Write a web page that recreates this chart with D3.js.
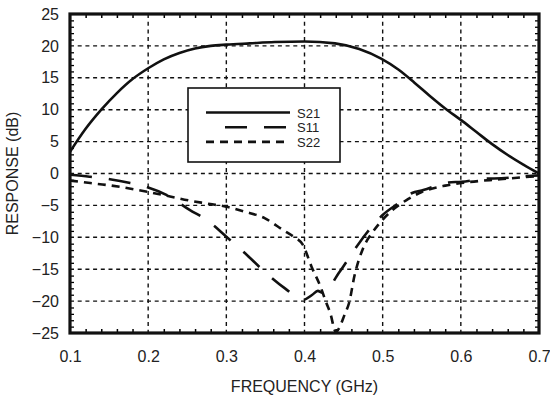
<!DOCTYPE html>
<html>
<head>
<meta charset="utf-8">
<script src="https://cdn.jsdelivr.net/npm/d3@7"></script>
<style>
  body { margin: 0; background: #fff; }
  svg { font-family: "Liberation Sans", Arial, sans-serif; }
</style>
</head>
<body>
<div id="chart"></div>
<script>
// values: [frequency GHz, response dB]
const s21 = [[0.1, 3.4], [0.12, 7.0], [0.14, 10.0], [0.16, 12.6], [0.18, 14.8], [0.2, 16.5],
             [0.22, 17.9], [0.24, 18.9], [0.26, 19.6], [0.28, 20.0], [0.3, 20.2], [0.33, 20.4],
             [0.362, 20.6], [0.4, 20.7], [0.439, 20.4], [0.47, 19.5], [0.498, 18.0], [0.52, 16.3],
             [0.541, 14.2], [0.56, 12.2], [0.58, 10.2], [0.6, 8.4], [0.62, 6.5], [0.64, 4.6],
             [0.66, 2.9], [0.68, 1.4], [0.7, 0.0]];
const s11 = [[0.1, -0.2], [0.125, -0.5], [0.151, -0.9], [0.177, -1.5], [0.2, -2.2], [0.224, -3.4],
             [0.253, -5.7], [0.275, -7.3], [0.3, -9.9], [0.324, -12.5], [0.349, -15.4], [0.375, -18.0],
             [0.398, -19.8], [0.41, -19.0], [0.417, -18.4], [0.423, -18.7], [0.445, -15.4],
             [0.462, -12.3], [0.479, -9.4], [0.5, -6.5], [0.522, -4.5], [0.537, -3.1], [0.552, -2.6],
             [0.584, -1.4], [0.601, -1.3], [0.633, -0.8], [0.652, -0.75], [0.686, -0.4], [0.7, -0.3]];
const s22 = [[0.1, -1.1], [0.126, -1.5], [0.147, -1.8], [0.164, -2.1], [0.187, -2.6], [0.2, -2.9],
             [0.228, -3.6], [0.251, -4.2], [0.275, -4.7], [0.3, -5.2], [0.324, -6.0], [0.349, -7.0],
             [0.373, -8.9], [0.386, -9.9], [0.398, -11.2], [0.409, -14.6], [0.42, -17.6],
             [0.428, -20.3], [0.433, -21.9], [0.44, -24.8], [0.452, -21.9], [0.457, -20.3],
             [0.464, -16.0], [0.475, -11.7], [0.486, -9.4], [0.494, -8.1], [0.51, -6.0],
             [0.53, -4.2], [0.55, -2.9], [0.58, -1.9], [0.6, -1.5], [0.65, -0.9], [0.7, -0.4]];

const seriesNames = ["S21", "S11", "S22"];
const xTicks = [0.1, 0.2, 0.3, 0.4, 0.5, 0.6, 0.7];
const yTicks = [-25, -20, -15, -10, -5, 0, 5, 10, 15, 20, 25];

const width = 550,
      height = 400,
      margin = ({ top: 14, right: 11, bottom: 67, left: 70 });

let svg = d3.select("#chart")
    .append("svg")
    .attr("width", width)
    .attr("height", height);

let x = d3.scaleLinear()
    .domain([0.1, 0.7])
    .range([margin.left, width - margin.right]);

let y = d3.scaleLinear()
    .domain([-25, 25])
    .range([height - margin.bottom, margin.top]);

// dotted grid
svg.append("g")
    .selectAll("line")
    .data(xTicks.slice(1, -1))
    .join("line")
    .attr("x1", d => x(d)).attr("x2", d => x(d))
    .attr("y1", y(25)).attr("y2", y(-25))
    .attr("stroke", "#111")
    .attr("stroke-width", 1.4)
    .attr("stroke-dasharray", "4,3.7");

svg.append("g")
    .selectAll("line")
    .data(yTicks.slice(1, -1))
    .join("line")
    .attr("x1", x(0.1)).attr("x2", x(0.7))
    .attr("y1", d => y(d)).attr("y2", d => y(d))
    .attr("stroke", "#111")
    .attr("stroke-width", 1.4)
    .attr("stroke-dasharray", "4,3.7");

// minor ticks, inward on every side
const xMinor = d3.range(0.12, 0.7, 0.02).filter(v => Math.abs(v * 10 - Math.round(v * 10)) > 0.01);
const yMinor = d3.range(-24, 25, 1).filter(v => v % 5 !== 0);

svg.append("g")
    .attr("transform", `translate(0,${y(-25)})`)
    .call(d3.axisTop(x).tickValues(xMinor).tickSize(4).tickFormat(""))
    .call(g => g.select(".domain").remove())
    .selectAll("line").attr("stroke-width", 1.5);

svg.append("g")
    .attr("transform", `translate(0,${y(25)})`)
    .call(d3.axisBottom(x).tickValues(xMinor).tickSize(4).tickFormat(""))
    .call(g => g.select(".domain").remove())
    .selectAll("line").attr("stroke-width", 1.5);

svg.append("g")
    .attr("transform", `translate(${x(0.1)},0)`)
    .call(d3.axisRight(y).tickValues(yMinor).tickSize(4).tickFormat(""))
    .call(g => g.select(".domain").remove())
    .selectAll("line").attr("stroke-width", 1.3);

svg.append("g")
    .attr("transform", `translate(${x(0.7)},0)`)
    .call(d3.axisLeft(y).tickValues(yMinor).tickSize(4).tickFormat(""))
    .call(g => g.select(".domain").remove())
    .selectAll("line").attr("stroke-width", 1.3);

// tick labels
svg.append("g")
    .attr("transform", `translate(0,${y(-25)})`)
    .call(d3.axisBottom(x).tickValues(xTicks).tickSize(0).tickPadding(18).tickFormat(d3.format(".1f")))
    .call(g => g.select(".domain").remove())
    .selectAll("text")
    .style("font-size", "16px")
    .attr("fill", "#222");

svg.append("g")
    .attr("transform", `translate(${x(0.1)},0)`)
    .call(d3.axisLeft(y).tickValues(yTicks).tickSize(0).tickPadding(11))
    .call(g => g.select(".domain").remove())
    .selectAll("text")
    .style("font-size", "16px")
    .attr("fill", "#222");

// curves
const line = d3.line()
    .x(d => x(d[0]))
    .y(d => y(d[1]))
    .curve(d3.curveMonotoneX);

const styles = {
    S21: { data: s21, dash: null, start: 18 },
    S11: { data: s11, dash: "22,17", start: 37 },
    S22: { data: s22, dash: "8,6", start: 18 }
};

svg.append("defs").append("clipPath")
    .attr("id", "plot-clip")
    .append("rect")
    .attr("x", x(0.1)).attr("y", y(25))
    .attr("width", x(0.7) - x(0.1))
    .attr("height", y(-25) - y(25));

svg.append("g")
    .attr("clip-path", "url(#plot-clip)")
    .selectAll("path")
    .data(seriesNames)
    .join("path")
    .attr("d", d => line(styles[d].data))
    .attr("fill", "none")
    .attr("stroke", "#111")
    .attr("stroke-width", 2.6)
    .attr("stroke-dasharray", d => styles[d].dash);

// frame
svg.append("rect")
    .attr("x", x(0.1)).attr("y", y(25))
    .attr("width", x(0.7) - x(0.1))
    .attr("height", y(-25) - y(25))
    .attr("fill", "none")
    .attr("stroke", "#111")
    .attr("stroke-width", 3.2);

// legend
const legend = svg.append("g").attr("transform", "translate(188,88)");

legend.append("rect")
    .attr("width", 152).attr("height", 74)
    .attr("fill", "#fff")
    .attr("stroke", "#111")
    .attr("stroke-width", 1.6);

seriesNames.forEach((name, i) => {
    const ly = 24.5 + i * 14.7;
    legend.append("line")
        .attr("x1", styles[name].start).attr("x2", 102)
        .attr("y1", ly).attr("y2", ly)
        .attr("stroke", "#111")
        .attr("stroke-width", 2.6)
        .attr("stroke-dasharray", styles[name].dash);
    legend.append("text")
        .attr("x", 109)
        .attr("y", ly + 5)
        .style("font-size", "13px")
        .attr("fill", "#222")
        .text(name);
});

// axis titles
svg.append("text")
    .attr("x", (x(0.1) + x(0.7)) / 2)
    .attr("y", 392)
    .attr("text-anchor", "middle")
    .style("font-size", "16px")
    .attr("fill", "#222")
    .text("FREQUENCY (GHz)");

svg.append("text")
    .attr("transform", `translate(18,${(y(25) + y(-25)) / 2}) rotate(-90)`)
    .attr("text-anchor", "middle")
    .style("font-size", "16px")
    .attr("fill", "#222")
    .text("RESPONSE (dB)");
</script>
</body>
</html>
